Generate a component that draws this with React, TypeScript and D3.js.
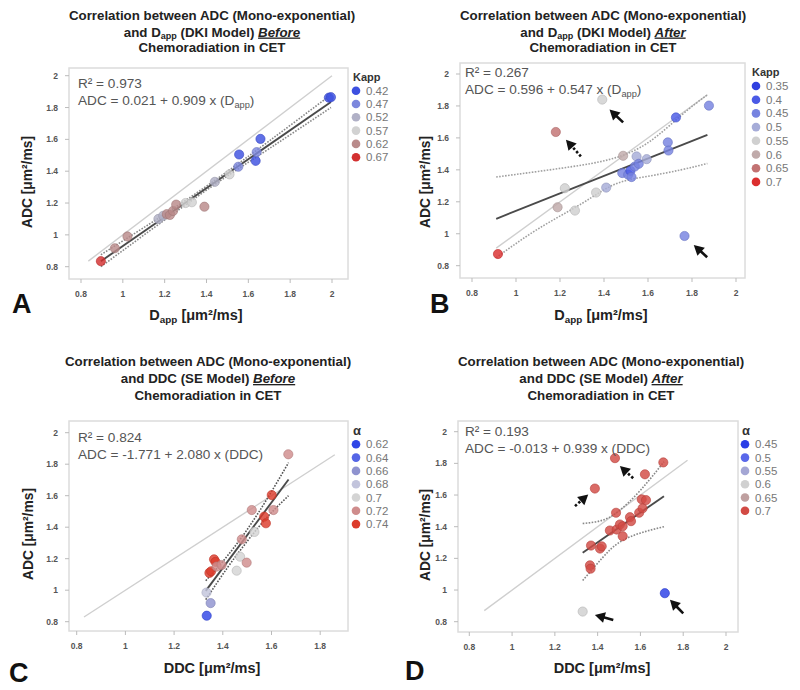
import React from "react";
import * as d3 from "d3";

// ---------------- Panel A (Dapp vs ADC, Before) ----------------
const dappA = [0.895, 0.962, 1.022, 1.17, 1.193, 1.21, 1.225, 1.24, 1.255, 1.3, 1.33, 1.39, 1.44, 1.51, 1.552, 1.556, 1.635, 1.64, 1.658, 1.985, 1.995];
const adcA = [0.835, 0.916, 0.99, 1.1, 1.12, 1.13, 1.125, 1.15, 1.19, 1.2, 1.205, 1.177, 1.333, 1.38, 1.428, 1.505, 1.465, 1.52, 1.603, 1.862, 1.865];
const kA = [0.67, 0.62, 0.62, 0.52, 0.52, 0.62, 0.62, 0.62, 0.62, 0.57, 0.57, 0.62, 0.52, 0.57, 0.47, 0.42, 0.42, 0.47, 0.42, 0.42, 0.42];
const legendA = [0.42, 0.47, 0.52, 0.57, 0.62, 0.67];
const colorsA = ["#3d50e0", "#7c87dd", "#b0b0c6", "#d2d2d2", "#b98a8a", "#d33030"];
const fitA = [0.021, 0.909];
const fitRangeA = [0.895, 1.995];
const identA = [0.835, 2.0];
const bandXA = [0.895, 1.2, 1.45, 1.7, 1.995];
const bandHiA = [0.875, 1.13, 1.352, 1.59, 1.88];
const bandLoA = [0.8, 1.094, 1.326, 1.542, 1.8];

// ---------------- Panel B (Dapp vs ADC, After) ----------------
const dappB = [0.918, 1.181, 1.189, 1.222, 1.268, 1.364, 1.392, 1.41, 1.483, 1.487, 1.51, 1.52, 1.525, 1.54, 1.548, 1.558, 1.594, 1.69, 1.693, 1.727, 1.766, 1.877];
const adcB = [0.873, 1.637, 1.166, 1.285, 1.145, 1.258, 1.84, 1.289, 1.38, 1.488, 1.37, 1.394, 1.355, 1.421, 1.484, 1.438, 1.467, 1.572, 1.521, 1.728, 0.986, 1.802];
const kB = [0.7, 0.65, 0.6, 0.55, 0.55, 0.55, 0.55, 0.5, 0.45, 0.6, 0.45, 0.4, 0.45, 0.45, 0.5, 0.45, 0.5, 0.45, 0.45, 0.4, 0.45, 0.45];
const legendB = [0.35, 0.4, 0.45, 0.5, 0.55, 0.6, 0.65, 0.7];
const colorsB = ["#3040e0", "#4a5ae6", "#7683e0", "#a6acd8", "#d0d0d0", "#c0aaaa", "#c27272", "#db2e2e"];
const fitB = [0.596, 0.547];
const fitRangeB = [0.91, 1.87];
const identB = [0.91, 1.87];
const bandXB = [0.91, 1.1, 1.3, 1.45, 1.6, 1.75, 1.87];
const bandHiB = [1.355, 1.39, 1.43, 1.475, 1.57, 1.74, 1.87];
const bandLoB = [0.85, 1.03, 1.19, 1.31, 1.36, 1.4, 1.44];
const arrowsB = [
  [1.487, 1.697, 1.425, 1.777, 0],
  [1.869, 0.853, 1.808, 0.93, 0],
  [1.295, 1.484, 1.227, 1.589, 1],
];

// ---------------- Panel C (DDC vs ADC, Before) ----------------
const ddcC = [1.334, 1.35, 1.333, 1.345, 1.352, 1.364, 1.37, 1.375, 1.395, 1.457, 1.471, 1.498, 1.478, 1.53, 1.519, 1.57, 1.577, 1.601, 1.608, 1.669];
const adcC = [0.838, 0.918, 0.985, 1.11, 1.12, 1.196, 1.18, 1.15, 1.16, 1.124, 1.213, 1.175, 1.323, 1.37, 1.509, 1.467, 1.425, 1.604, 1.509, 1.863];
const aC = [0.62, 0.66, 0.68, 0.74, 0.74, 0.74, 0.74, 0.72, 0.72, 0.7, 0.7, 0.72, 0.72, 0.7, 0.72, 0.74, 0.74, 0.74, 0.72, 0.72];
const legendC = [0.62, 0.64, 0.66, 0.68, 0.7, 0.72, 0.74];
const colorsC = ["#2f45e6", "#5566e6", "#8f93cf", "#c2c4dc", "#d4d4d4", "#cf8c8c", "#dc3c2c"];
const fitC = [-1.771, 2.08];
const fitRangeC = [1.33, 1.67];
const identC = [0.83, 1.86];
const bandXC = [1.33, 1.42, 1.5, 1.58, 1.67];
const bandHiC = [1.06, 1.22, 1.385, 1.575, 1.81];
const bandLoC = [0.94, 1.145, 1.31, 1.46, 1.6];

// ---------------- Panel D (DDC vs ADC, After) ----------------
const ddcD = [1.33, 1.364, 1.367, 1.369, 1.387, 1.411, 1.419, 1.457, 1.481, 1.486, 1.489, 1.504, 1.517, 1.517, 1.551, 1.556, 1.594, 1.606, 1.61, 1.621, 1.626, 1.707, 1.714];
const adcD = [0.864, 1.156, 1.135, 1.281, 1.641, 1.262, 1.276, 1.376, 1.833, 1.488, 1.382, 1.414, 1.403, 1.34, 1.46, 1.435, 1.488, 1.573, 1.516, 1.731, 1.568, 1.806, 0.98];
const aD = [0.6, 0.7, 0.7, 0.7, 0.7, 0.7, 0.7, 0.7, 0.7, 0.7, 0.7, 0.7, 0.7, 0.7, 0.7, 0.7, 0.7, 0.7, 0.7, 0.7, 0.7, 0.7, 0.45];
const legendD = [0.45, 0.5, 0.55, 0.6, 0.65, 0.7];
const colorsD = ["#2a3ee6", "#5a68ea", "#a4a6d4", "#d0d0d0", "#bfa0a0", "#d24a44"];
const fitD = [-0.013, 0.939];
const fitRangeD = [1.33, 1.71];
const identD = [0.87, 1.82];
const bandXD = [1.33, 1.42, 1.5, 1.6, 1.71];
const bandHiD = [1.42, 1.44, 1.5, 1.63, 1.81];
const bandLoD = [1.06, 1.2, 1.3, 1.36, 1.4];
const arrowsD = [
  [1.566, 1.706, 1.504, 1.784, 1],
  [1.294, 1.53, 1.356, 1.604, 1],
  [1.473, 0.811, 1.387, 0.843, 0],
  [1.8, 0.853, 1.738, 0.938, 0],
];

const ticksFull = [0.8, 1, 1.2, 1.4, 1.6, 1.8, 2];
const ticksC = [0.8, 1, 1.2, 1.4, 1.6, 1.8];
const yTicks = [0.8, 1, 1.2, 1.4, 1.6, 1.8, 2];

const FONT = "'Liberation Sans', Arial, Helvetica, sans-serif";

// "D" + subscript "app" + following text (baseline restored on the following text)
const Dapp = ({ after }: { after: string }) => (
  <>
    D
    <tspan fontSize="0.68em" dy="0.28em">app</tspan>
    <tspan dy="-0.19em">{after}</tspan>
  </>
);

function Arrow({ x1, y1, x2, y2, dashed }: any) {
  const dx = x2 - x1, dy = y2 - y1;
  const len = Math.hypot(dx, dy);
  const ux = dx / len, uy = dy / len;
  const hl = 10, hw = 5.5;
  const bx = x2 - ux * hl, by = y2 - uy * hl;
  const pts = `${x2},${y2} ${bx - uy * hw},${by + ux * hw} ${bx + uy * hw},${by - ux * hw}`;
  return (
    <g>
      <line x1={x1} y1={y1} x2={bx + ux * 1} y2={by + uy * 1} stroke="#111" strokeWidth={2.6}
        strokeDasharray={dashed ? "2.5,2" : undefined} />
      <polygon points={pts} fill="#111" />
    </g>
  );
}

function Panel({ p }: any) {
  const x = d3.scaleLinear().domain([0.8, p.xMax]).range(p.xr);
  const y = d3.scaleLinear().domain([0.8, 2]).range(p.yr);
  const color = d3.scaleOrdinal<number, string>().domain(p.legend).range(p.colors);
  const f = p.frame;
  const lineGen = d3.line<[number, number]>().x((d) => x(d[0])).y((d) => y(d[1]));
  const bandGen = d3.line<[number, number]>().x((d) => x(d[0])).y((d) => y(d[1])).curve(d3.curveNatural);
  const fitPts: [number, number][] = p.fitRange.map((v: number) => [v, p.fit[0] + p.fit[1] * v]);
  const identPts: [number, number][] = p.ident.map((v: number) => [v, v]);
  const hi: [number, number][] = p.bandX.map((v: number, i: number) => [v, p.bandHi[i]]);
  const lo: [number, number][] = p.bandX.map((v: number, i: number) => [v, p.bandLo[i]]);
  const pts = p.xs.map((v: number, i: number) => ({ x: v, y: p.ys[i], c: p.cs[i] }));
  const fmt = (v: number) => d3.format("~g")(v);
  const TS = 13.3;
  return (
    <g fontFamily={FONT}>
      {/* title */}
      <text x={p.titleX} y={p.titleY[0]} textAnchor="middle" fontWeight="bold" fontSize={TS} fill="#222">
        Correlation between ADC (Mono-exponential)
      </text>
      <text x={p.titleX} y={p.titleY[1]} textAnchor="middle" fontWeight="bold" fontSize={TS} fill="#222">
        {p.model === "DKI" ? <>and <Dapp after=" (DKI Model) " /></> : <>and DDC (SE Model) </>}
        <tspan fontStyle="italic" textDecoration="underline">{p.when}</tspan>
      </text>
      <text x={p.titleX} y={p.titleY[2]} textAnchor="middle" fontWeight="bold" fontSize={TS} fill="#222">
        Chemoradiation in CET
      </text>

      {/* frame */}
      <rect x={f.l} y={f.t} width={f.r - f.l} height={f.b - f.t} fill="#fff" stroke="#dcdcdc" strokeWidth={1.5} />

      {/* ticks */}
      {p.xTicks.map((t: number) => (
        <g key={"x" + t}>
          <line x1={x(t)} x2={x(t)} y1={f.b} y2={f.b + 4} stroke="#bbb" />
          <text x={x(t)} y={f.b + 18} textAnchor="middle" fontSize={8.5} fontWeight="bold" fill="#555">{fmt(t)}</text>
        </g>
      ))}
      {yTicks.map((t: number) => (
        <g key={"y" + t}>
          <line x1={f.l - 4} x2={f.l} y1={y(t)} y2={y(t)} stroke="#bbb" />
          <text x={f.l - 11} y={y(t) + 3} textAnchor="end" fontSize={8.5} fontWeight="bold" fill="#555">{fmt(t)}</text>
        </g>
      ))}

      {/* axis titles */}
      <text transform={`translate(${p.yLab[0]},${p.yLab[1]}) rotate(-90)`} textAnchor="middle" fontWeight="bold" fontSize={13.8} fill="#222">
        ADC [μm²/ms]
      </text>
      <text x={p.xLab[0]} y={p.xLab[1]} textAnchor="middle" fontWeight="bold" fontSize={14.5} fill="#222">
        {p.model === "DKI" ? <Dapp after=" [μm²/ms]" /> : <>DDC [μm²/ms]</>}
      </text>

      {/* lines */}
      <path d={lineGen(identPts) || ""} stroke="#cfcfcf" strokeWidth={1.4} fill="none" />
      <path d={bandGen(hi) || ""} stroke={p.bandColor} strokeWidth={1.6} strokeDasharray="1.6,1.4" fill="none" />
      <path d={bandGen(lo) || ""} stroke={p.bandColor} strokeWidth={1.6} strokeDasharray="1.6,1.4" fill="none" />
      <path d={lineGen(fitPts) || ""} stroke="#4a4a4a" strokeWidth={1.9} fill="none" />

      {/* points */}
      {pts.map((d: any, i: number) => {
        const c = color(d.c);
        return (
          <circle key={i} cx={x(d.x)} cy={y(d.y)} r={4.6} fill={c} fillOpacity={0.82}
            stroke={d3.color(c)!.darker(0.4).toString()} strokeOpacity={0.6} strokeWidth={1} />
        );
      })}

      {/* arrows */}
      {(p.arrows || []).map((a: number[], i: number) => (
        <Arrow key={i} x1={x(a[0])} y1={y(a[1])} x2={x(a[2])} y2={y(a[3])} dashed={a[4] === 1} />
      ))}

      {/* annotation */}
      <text x={p.ann[0]} y={p.ann[1]} fontSize={13.6} fill="#555">R² = {p.r2}</text>
      <text x={p.ann[0]} y={p.ann[1] + 17} fontSize={13.6} fill="#555">
        {p.model === "DKI" ? <>{p.eq}(<Dapp after=")" /></> : <>{p.eq}(DDC)</>}
      </text>

      {/* legend */}
      <text x={p.leg[0]} y={p.leg[1]} fontWeight="bold" fontSize={p.legTitle === "α" ? 13 : 11} fill="#333">{p.legTitle}</text>
      {p.legend.map((v: number, i: number) => (
        <g key={"l" + v}>
          <circle cx={p.leg[2]} cy={p.leg[3] + i * p.leg[4]} r={4.3} fill={color(v)} />
          <text x={p.leg[2] + 10} y={p.leg[3] + i * p.leg[4] + 4} fontSize={11.5} fill="#777">{fmt(v)}</text>
        </g>
      ))}

      {/* panel letter */}
      <text x={p.letter[0]} y={p.letter[1]} fontSize={27} fontWeight="bold" fill="#111">{p.letterText}</text>
    </g>
  );
}

const panels = [
  {
    model: "DKI", when: "Before", xs: dappA, ys: adcA, cs: kA, legend: legendA, colors: colorsA,
    fit: fitA, fitRange: fitRangeA, ident: identA, bandX: bandXA, bandHi: bandHiA, bandLo: bandLoA,
    arrows: [], r2: "0.973", eq: "ADC = 0.021 + 0.909 x ", legTitle: "Kapp", bandColor: "#888",
    xMax: 2, xTicks: ticksFull,
    frame: { l: 69, t: 68, r: 348, b: 279 }, xr: [81, 332], yr: [266.7, 75.7],
    titleX: 212, titleY: [20, 36.5, 52], yLab: [32, 182], xLab: [196, 320],
    ann: [78, 88], leg: [353, 81, 356, 90.7, 13.3], letter: [12, 313], letterText: "A",
  },
  {
    model: "DKI", when: "After", xs: dappB, ys: adcB, cs: kB, legend: legendB, colors: colorsB,
    fit: fitB, fitRange: fitRangeB, ident: identB, bandX: bandXB, bandHi: bandHiB, bandLo: bandLoB,
    arrows: arrowsB, r2: "0.267", eq: "ADC = 0.596 + 0.547 x ", legTitle: "Kapp", bandColor: "#a0a0a0",
    xMax: 2, xTicks: ticksFull,
    frame: { l: 460, t: 63, r: 745, b: 278 }, xr: [472, 736], yr: [265.7, 74],
    titleX: 603, titleY: [20, 36.5, 52], yLab: [430, 182], xLab: [601, 320],
    ann: [465, 77], leg: [752, 76, 756, 86, 13.7], letter: [430, 313], letterText: "B",
  },
  {
    model: "SE", when: "Before", xs: ddcC, ys: adcC, cs: aC, legend: legendC, colors: colorsC,
    fit: fitC, fitRange: fitRangeC, ident: identC, bandX: bandXC, bandHi: bandHiC, bandLo: bandLoC,
    arrows: [], r2: "0.824", eq: "ADC = -1.771 + 2.080 x ", legTitle: "α", bandColor: "#555",
    xMax: 1.8, xTicks: ticksC,
    frame: { l: 69, t: 421, r: 348, b: 631 }, xr: [76.7, 320.2], yr: [621.7, 432.7],
    titleX: 208, titleY: [366, 383, 399.5], yLab: [33, 534], xLab: [212, 673],
    ann: [78, 442], leg: [353, 435, 356, 444.3, 13.3], letter: [9, 682], letterText: "C",
  },
  {
    model: "SE", when: "After", xs: ddcD, ys: adcD, cs: aD, legend: legendD, colors: colorsD,
    fit: fitD, fitRange: fitRangeD, ident: identD, bandX: bandXD, bandHi: bandHiD, bandLo: bandLoD,
    arrows: arrowsD, r2: "0.193", eq: "ADC = -0.013 + 0.939 x ", legTitle: "α", bandColor: "#888",
    xMax: 2, xTicks: ticksFull,
    frame: { l: 458, t: 421, r: 738, b: 632 }, xr: [469.3, 726], yr: [621.7, 431.7],
    titleX: 601, titleY: [366, 383, 399.5], yLab: [430, 535], xLab: [602, 673],
    ann: [465, 435.5], leg: [742, 435, 745, 444.3, 13.3], letter: [405, 680], letterText: "D",
  },
];

export default function App() {
  return (
    <svg width={800} height={690} style={{ position: "absolute", left: 0, top: 0, background: "#fff" }}>
      <rect x={0} y={0} width={800} height={690} fill="#fff" />
      {panels.map((p, i) => (
        <Panel key={i} p={p} />
      ))}
    </svg>
  );
}
